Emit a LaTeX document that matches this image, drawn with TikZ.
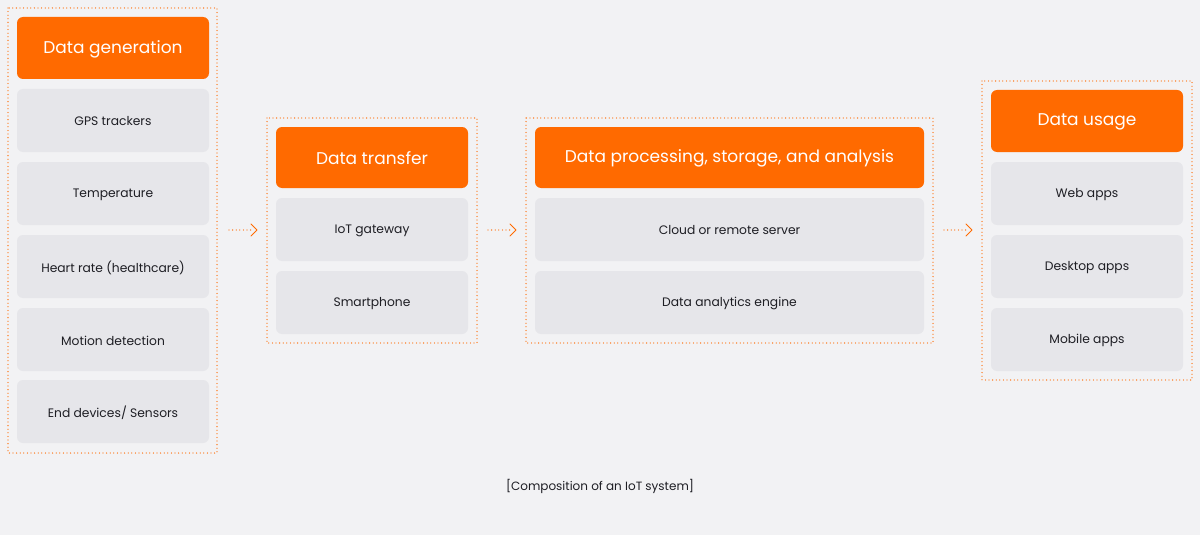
\documentclass[tikz,border=0pt]{standalone}
\usepackage{fontspec}
\setmainfont{Poppins}
\usetikzlibrary{arrows.meta}
\definecolor{bg}{HTML}{F2F2F4}
\definecolor{itm}{HTML}{E6E6EA}
\definecolor{org}{HTML}{FF6A00}
\definecolor{txt}{HTML}{1E1E24}
\tikzset{
 grp/.style={draw=org, line width=1.3pt, dash pattern=on 0pt off 3.6pt, line cap=round},
 hdr/.style={fill=org, rounded corners=6pt, text=white, font=\fontsize{17}{20}\selectfont},
 itembox/.style={fill=itm, rounded corners=6pt, text=txt, font=\fontsize{12.3}{15}\selectfont},
 flow/.style={draw=org, line width=1.3pt, dash pattern=on 0pt off 3.6pt, line cap=round},
 tip/.style={draw=org, line width=1pt, line cap=round, line join=round}
}
\newcommand{\bx}[6]{\path[#1] (#2,#3) rectangle (#4,#5) node[midway,yshift=-1pt] {#6};}
\begin{document}
\begin{tikzpicture}[x=1pt,y=-1pt]
\path[fill=bg] (0,0) rectangle (1200,535);
\useasboundingbox (0,0) rectangle (1200,535);
% group 1
\draw[grp] (8,8) rectangle (217,453);
\bx{hdr}{17}{17}{209}{79}{Data generation}
\bx{itembox}{17}{89}{209}{152}{GPS trackers}
\bx{itembox}{17}{162}{209}{225}{Temperature}
\bx{itembox}{17}{235}{209}{298}{Heart rate (healthcare)}
\bx{itembox}{17}{308}{209}{371}{Motion detection}
\bx{itembox}{17}{380}{209}{443}{End devices/ Sensors}
% group 2
\draw[grp] (267,118) rectangle (477,343);
\bx{hdr}{276}{127}{468}{188}{Data transfer}
\bx{itembox}{276}{198}{468}{261}{IoT gateway}
\bx{itembox}{276}{271}{468}{334}{Smartphone}
% group 3
\draw[grp] (526,118) rectangle (933,343);
\bx{hdr}{535}{127}{924}{188}{Data processing, storage, and analysis}
\bx{itembox}{535}{198}{924}{261}{Cloud or remote server}
\bx{itembox}{535}{271}{924}{334}{Data analytics engine}
% group 4
\draw[grp] (982,81) rectangle (1192,380);
\bx{hdr}{991}{90}{1183}{152}{Data usage}
\bx{itembox}{991}{162}{1183}{225}{Web apps}
\bx{itembox}{991}{235}{1183}{298}{Desktop apps}
\bx{itembox}{991}{308}{1183}{371}{Mobile apps}
% arrows
\foreach \a in {229,488,944}{
 \draw[flow] (\a,230) -- (\a+22,230);
 \draw[tip] (\a+22,224) -- (\a+28,230) -- (\a+22,236);
}
\node[text=txt, font=\fontsize{12}{14}\selectfont] (cap) at (600,486) {[Composition of an IoT system]};
\end{tikzpicture}
\end{document}
